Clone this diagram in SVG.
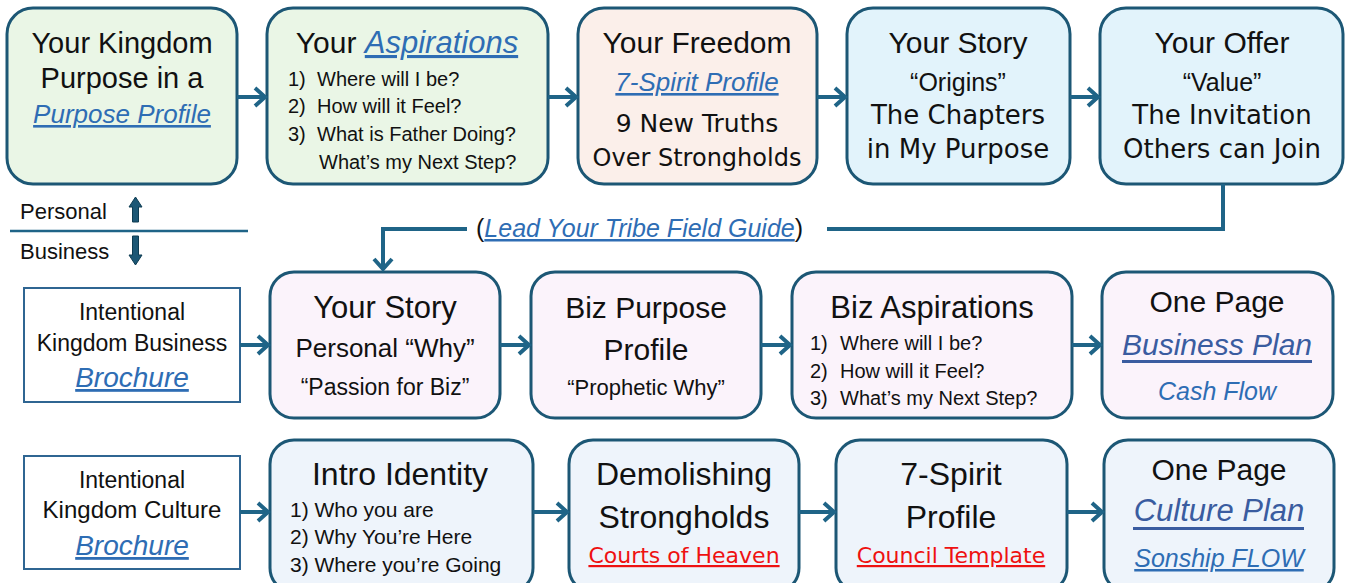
<svg xmlns="http://www.w3.org/2000/svg" width="1347" height="583" viewBox="0 0 1347 583">
<defs>
<style>
.box{stroke:#1c5775;stroke-width:3}
.g{fill:#eaf6e6}.p{fill:#fbefea}.b{fill:#e2f3fb}.l{fill:#fbf3fb}.c{fill:#eef4fb}
.sq{fill:#ffffff;stroke:#2f6592;stroke-width:2}
text{font-family:"Liberation Sans",Arial,sans-serif;fill:#111}
.t{font-size:30px;text-anchor:middle}
.tb{font-size:32px;text-anchor:middle}
.m{font-size:25px;text-anchor:middle}
.s{font-size:20px}
.s2{font-size:23px;text-anchor:middle}
.h{font-family:"DejaVu Sans",sans-serif;font-size:26px;text-anchor:middle}
.lk{fill:#2e6db4;font-style:italic;text-decoration:underline}
.lk2{fill:#3a5ca0;font-style:italic}
.red{fill:#ee1111;text-decoration:underline;font-family:"DejaVu Sans",sans-serif;font-size:22px;text-anchor:middle}
.ar{stroke:#1f6487;stroke-width:4;fill:none}
</style>
<marker id="ah" markerUnits="userSpaceOnUse" markerWidth="16" markerHeight="22" refX="13" refY="11" orient="auto">
<path d="M3,2 L13,11 L3,20" fill="none" stroke="#1f6487" stroke-width="4"/>
</marker>
</defs>

<g id="n1"><rect class="box g" x="7" y="8" width="230" height="176" rx="26"/>
<text class="t" x="122" y="53" style="font-size:29px">Your Kingdom</text>
<text class="t" x="122" y="88" style="font-size:29px">Purpose in a</text>
<text class="t lk" x="122" y="123" style="font-size:26px">Purpose Profile</text></g>

<g id="n2"><rect class="box g" x="267" y="8" width="281" height="176" rx="26"/>
<text class="t" x="407" y="53">Your <tspan class="lk" style="font-size:31px">Aspirations</tspan></text>
<text class="s" x="288" y="86">1)<tspan x="317">Where will I be?</tspan></text>
<text class="s" x="288" y="113">2)<tspan x="317">How will it Feel?</tspan></text>
<text class="s" x="288" y="141">3)<tspan x="317">What is Father Doing?</tspan></text>
<text class="s" x="319" y="169">What’s my Next Step?</text></g>

<g id="n3"><rect class="box p" x="578" y="8" width="239" height="176" rx="26"/>
<text class="t" x="697" y="53">Your Freedom</text>
<text class="m lk" x="697" y="91" style="font-size:26px">7-Spirit Profile</text>
<text class="h" x="697" y="132" style="font-size:25px">9 New Truths</text>
<text class="h" x="697" y="166" style="font-size:24px">Over Strongholds</text></g>

<g id="n4"><rect class="box b" x="847" y="8" width="223" height="176" rx="26"/>
<text class="t" x="958" y="53">Your Story</text>
<text class="m" x="958" y="91">“Origins”</text>
<text class="h" x="958" y="124">The Chapters</text>
<text class="h" x="958" y="158">in My Purpose</text></g>

<g id="n5"><rect class="box b" x="1100" y="8" width="243" height="176" rx="26"/>
<text class="t" x="1222" y="53">Your Offer</text>
<text class="m" x="1222" y="91">“Value”</text>
<text class="h" x="1222" y="124">The Invitation</text>
<text class="h" x="1222" y="158">Others can Join</text></g>

<g id="sep">
<text x="20" y="219" style="font-size:22px">Personal</text>
<text x="20" y="259" style="font-size:22px">Business</text>
<line x1="10" y1="231" x2="248" y2="231" stroke="#1f6487" stroke-width="2.5"/>
<path d="M135.5,197 L142,207 L138.5,207 L138.5,222 L132.5,222 L132.5,207 L129,207 Z" fill="#1c5775" stroke="#0e3c52" stroke-width="1"/>
<path d="M135.5,265 L142,255 L138.5,255 L138.5,236 L132.5,236 L132.5,255 L129,255 Z" fill="#1c5775" stroke="#0e3c52" stroke-width="1"/>
</g>

<g id="guide"><text x="476" y="237" style="font-size:25px">(<tspan class="lk">Lead Your Tribe Field Guide</tspan>)</text></g>

<g id="n6"><rect class="sq" x="24" y="288" width="216" height="114"/>
<text class="s2" x="132" y="320">Intentional</text>
<text class="s2" x="132" y="351">Kingdom Business</text>
<text class="t lk" x="132" y="387" style="font-size:28px">Brochure</text></g>

<g id="n7"><rect class="box l" x="270" y="272" width="230" height="146" rx="24"/>
<text class="t" x="385" y="318" style="font-size:31px">Your Story</text>
<text class="m" x="385" y="357" style="font-size:26px">Personal “Why”</text>
<text class="s2" x="385" y="395">“Passion for Biz”</text></g>

<g id="n8"><rect class="box l" x="531" y="272" width="230" height="146" rx="24"/>
<text class="t" x="646" y="318">Biz Purpose</text>
<text class="t" x="646" y="360">Profile</text>
<text class="s2" x="646" y="395" style="font-size:22px">“Prophetic Why”</text></g>

<g id="n9"><rect class="box l" x="792" y="272" width="280" height="146" rx="24"/>
<text class="t" x="932" y="318" style="font-size:31px">Biz Aspirations</text>
<text class="s" x="810" y="350">1)<tspan x="840">Where will I be?</tspan></text>
<text class="s" x="810" y="378">2)<tspan x="840">How will it Feel?</tspan></text>
<text class="s" x="810" y="405">3)<tspan x="840">What’s my Next Step?</tspan></text></g>

<g id="n10"><rect class="box l" x="1102" y="272" width="231" height="146" rx="24"/>
<text class="t" x="1217" y="312">One Page</text>
<text class="t lk2" x="1217" y="355">Business Plan</text>
<rect x="1122" y="360" width="190" height="3" fill="#3a5ca0"/>
<text class="m" x="1217" y="400" style="fill:#2e6db4;font-style:italic">Cash Flow</text></g>

<g id="n11"><rect class="sq" x="24" y="456" width="216" height="113"/>
<text class="s2" x="132" y="488">Intentional</text>
<text class="s2" x="132" y="518" style="font-size:24px">Kingdom Culture</text>
<text class="t lk" x="132" y="555" style="font-size:28px">Brochure</text></g>

<g id="n12"><rect class="box c" x="270" y="440" width="263" height="152" rx="24"/>
<text class="tb" x="400" y="485">Intro Identity</text>
<text class="s" x="290" y="517" style="font-size:21px">1) Who you are</text>
<text class="s" x="290" y="544" style="font-size:21px">2) Why You’re Here</text>
<text class="s" x="290" y="572" style="font-size:21px">3) Where you’re Going</text></g>

<g id="n13"><rect class="box c" x="569" y="440" width="230" height="152" rx="24"/>
<text class="tb" x="684" y="485">Demolishing</text>
<text class="tb" x="684" y="528">Strongholds</text>
<text class="red" x="684" y="563">Courts of Heaven</text></g>

<g id="n14"><rect class="box c" x="836" y="440" width="231" height="152" rx="24"/>
<text class="tb" x="951" y="485">7-Spirit</text>
<text class="tb" x="951" y="528">Profile</text>
<text class="red" x="951" y="563">Council Template</text></g>

<g id="n15"><rect class="box c" x="1104" y="440" width="230" height="152" rx="24"/>
<text class="t" x="1219" y="480">One Page</text>
<text class="t lk2" x="1219" y="521" style="font-size:31px">Culture Plan</text>
<rect x="1133" y="527" width="171" height="3" fill="#3a5ca0"/>
<text class="m lk" x="1219" y="567">Sonship FLOW</text></g>

<g id="connectors">
<line class="ar" x1="237" y1="97" x2="265" y2="97" marker-end="url(#ah)"/>
<line class="ar" x1="548" y1="97" x2="576" y2="97" marker-end="url(#ah)"/>
<line class="ar" x1="817" y1="97" x2="845" y2="97" marker-end="url(#ah)"/>
<line class="ar" x1="1070" y1="97" x2="1098" y2="97" marker-end="url(#ah)"/>
<polyline class="ar" points="1223,184 1223,229 827,229"/>
<polyline class="ar" points="467,229 383,229 383,269" marker-end="url(#ah)"/>
<line class="ar" x1="240" y1="345" x2="268" y2="345" marker-end="url(#ah)"/>
<line class="ar" x1="500" y1="345" x2="529" y2="345" marker-end="url(#ah)"/>
<line class="ar" x1="761" y1="345" x2="790" y2="345" marker-end="url(#ah)"/>
<line class="ar" x1="1072" y1="345" x2="1100" y2="345" marker-end="url(#ah)"/>
<line class="ar" x1="240" y1="512" x2="268" y2="512" marker-end="url(#ah)"/>
<line class="ar" x1="533" y1="512" x2="567" y2="512" marker-end="url(#ah)"/>
<line class="ar" x1="799" y1="512" x2="834" y2="512" marker-end="url(#ah)"/>
<line class="ar" x1="1067" y1="512" x2="1102" y2="512" marker-end="url(#ah)"/>
</g>
</svg>
